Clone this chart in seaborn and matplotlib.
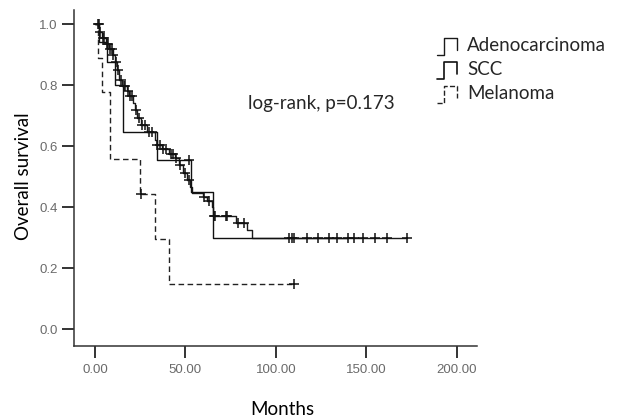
import numpy as np
import pandas as pd
import matplotlib
matplotlib.use('Agg')
import matplotlib.pyplot as plt
import seaborn as sns
from matplotlib.lines import Line2D
from matplotlib.legend_handler import HandlerBase

# Kaplan-Meier step curves (months, survival)
adeno_times = [0, 2.5, 3.8, 6, 8, 9.8, 10.8, 12, 13.5, 15.2, 17.5, 19, 21, 22, 23.5,
               25.5, 29, 33, 34, 37, 41, 44, 46.5, 48.5, 51, 52.5, 53.5, 59.5, 62,
               64.5, 65.3, 78, 84, 86.5]
adeno_surv = [1.0, 0.975, 0.955, 0.935, 0.918, 0.90, 0.875, 0.85, 0.815, 0.798, 0.78,
              0.765, 0.74, 0.717, 0.693, 0.668, 0.645, 0.62, 0.603, 0.59, 0.575, 0.562,
              0.538, 0.512, 0.488, 0.465, 0.446, 0.433, 0.42, 0.40, 0.37, 0.348, 0.325,
              0.297]
adeno_censor = [1.5, 2.2, 3.0, 4.5, 5.2, 6.6, 7.3, 8.5, 9.3, 10.2, 11.5, 12.8, 14.2,
                15.8, 16.5, 18.2, 19.5, 20.4, 22.5, 24.2, 26.2, 27.5, 29.8, 31.5, 34.5,
                35.8, 37.8, 39.5, 41.8, 43, 44.5, 47.2, 49.5, 52, 60.5, 63, 65.6, 66.5,
                72.2, 73, 79, 82.5, 107.2, 108.7, 110.1, 117.1, 123.2, 129.3, 133.7,
                143.1, 148.1, 154.7, 161.3, 172.4]

scc_times = [0, 2.5, 6.5, 11.2, 15.7, 34, 53, 65]
scc_surv = [1.0, 0.94, 0.875, 0.80, 0.646, 0.554, 0.449, 0.298]
scc_censor = [52, 140]

mel_times = [0, 1.7, 3.9, 8.3, 25, 33, 41]
mel_surv = [1.0, 0.889, 0.778, 0.556, 0.444, 0.296, 0.148]
mel_censor = [25.2, 110]

groups = ['Adenocarcinoma', 'SCC', 'Melanoma']
x_ticks = [0, 50, 100, 150, 200]
y_ticks = [0.0, 0.2, 0.4, 0.6, 0.8, 1.0]

curves = {'Adenocarcinoma': (adeno_times, adeno_surv, adeno_censor),
          'SCC': (scc_times, scc_surv, scc_censor),
          'Melanoma': (mel_times, mel_surv, mel_censor)}

# build long tables for seaborn
line_rows = []
cens_rows = []
for g in groups:
    t, s, c = curves[g]
    for ti, si in zip(t + [max(c)], s + [s[-1]]):
        line_rows.append((g, ti, si))
    for ci in c:
        idx = np.searchsorted(t, ci, side='right') - 1
        cens_rows.append((g, ci, s[idx]))
lines_df = pd.DataFrame(line_rows, columns=['group', 'months', 'survival'])
cens_df = pd.DataFrame(cens_rows, columns=['group', 'months', 'survival'])


class StepHandler(HandlerBase):
    # SPSS-like little step glyph for the legend
    def create_artists(self, legend, orig_handle, xdescent, ydescent,
                       width, height, fontsize, trans):
        xs = np.array([0.0, 0.3, 0.3, 0.8, 0.8]) * width - xdescent
        ys = np.array([-0.3, -0.3, 1.0, 1.0, 0.05]) * height - ydescent
        ln = Line2D(xs, ys, color=orig_handle.get_color(),
                    linestyle=orig_handle.get_linestyle(),
                    linewidth=orig_handle.get_linewidth())
        ln.set_transform(trans)
        return [ln]


sns.set_style('ticks')
plt.rcParams['font.family'] = ['Liberation Sans', 'DejaVu Sans']

fig = plt.figure(figsize=(6.17, 4.18), dpi=100)
ax = fig.add_axes([0.1199, 0.1722, 0.6532, 0.8038])

sns.lineplot(data=lines_df, x='months', y='survival', hue='group', style='group',
             palette={'Adenocarcinoma': '#1a1a1a', 'SCC': '#111111', 'Melanoma': '#222222'},
             dashes={'Adenocarcinoma': '', 'SCC': '', 'Melanoma': (4, 2.5)},
             drawstyle='steps-post', estimator=None, sort=False, linewidth=1.0,
             legend=False, ax=ax)
sns.scatterplot(data=cens_df, x='months', y='survival', marker='+', s=45,
                color='#111111', linewidth=1.1, legend=False, ax=ax, zorder=3)

ax.set_xlim(-11.6, 211.1)
ax.set_ylim(-0.0557, 1.046)
ax.set_xticks(x_ticks)
ax.set_xticklabels(['%.2f' % v for v in x_ticks])
ax.set_yticks(y_ticks)
ax.set_yticklabels(['%.1f' % v for v in y_ticks])
ax.tick_params(length=8.6, width=1.4, color='#333333', labelcolor='#6a6a6a', labelsize=9.5)
ax.tick_params(axis='x', pad=4)
ax.tick_params(axis='y', pad=3)
sns.despine(ax=ax)
for sp in ['left', 'bottom']:
    ax.spines[sp].set_linewidth(1.1)
    ax.spines[sp].set_color('#333333')

ax.set_xlabel('Months', fontfamily='Lato', fontsize=13.5, color='black')
ax.set_ylabel('Overall survival', fontfamily='Lato', fontsize=13.5, color='black')
ax.xaxis.set_label_coords(0.516, -0.163)
ax.yaxis.set_label_coords(-0.105, 0.506)

ax.text(84.5, 0.74, 'log-rank, p=0.173', fontfamily='Lato', fontsize=13.5, va='center')

handles = [Line2D([], [], color='#1a1a1a', linewidth=1.0),
           Line2D([], [], color='#111111', linewidth=1.2),
           Line2D([], [], color='#222222', linewidth=1.0, linestyle=(0, (2, 2)))]
fig.legend(handles, groups, loc='upper left', bbox_to_anchor=(0.708, 0.912),
           frameon=False, borderpad=0, borderaxespad=0, handlelength=1.33,
           handletextpad=0.27, labelspacing=0.37,
           prop={'family': 'Lato', 'size': 13.5},
           handler_map={Line2D: StepHandler()})

fig.savefig('out.png', dpi=100)
